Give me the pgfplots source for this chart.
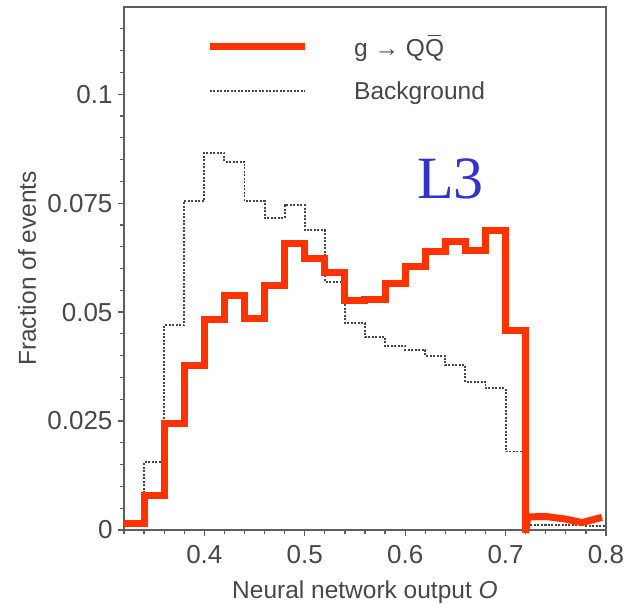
\documentclass[border=0pt]{standalone}
\usepackage{fontspec}
\setmainfont{Liberation Sans}
\newfontfamily\seriffont{Liberation Serif}
\usepackage{pgfplots}
\pgfplotsset{compat=1.18}
\definecolor{sigred}{RGB}{255,51,0}
\definecolor{lthree}{RGB}{51,51,204}
\definecolor{axgray}{RGB}{95,95,95}
\definecolor{bkg}{RGB}{70,70,70}

\pgfplotstableread{
x y
0.32 0.0010
0.34 0.0155
0.36 0.0470
0.38 0.0755
0.40 0.0865
0.42 0.0845
0.44 0.0755
0.46 0.0716
0.48 0.0745
0.50 0.0688
0.52 0.0570
0.54 0.0475
0.56 0.0443
0.58 0.0422
0.60 0.0413
0.62 0.0400
0.64 0.0378
0.66 0.0340
0.68 0.0325
0.70 0.0180
0.72 0.0012
0.74 0.0012
0.76 0.0011
0.78 0.0010
0.80 0.0010
}\bkgtable

\pgfplotstableread{
x y
0.32 0.0015
0.34 0.0079
0.36 0.0245
0.38 0.0378
0.40 0.0482
0.42 0.0537
0.44 0.0486
0.46 0.0562
0.48 0.0658
0.50 0.0622
0.52 0.0590
0.54 0.0526
0.56 0.0530
0.58 0.0566
0.60 0.0604
0.62 0.0638
0.64 0.0661
0.66 0.0642
0.68 0.0687
0.70 0.0457
0.72 -0.0007
}\sigtable

\pgfplotstableread{
x y
0.720 -0.0007
0.722 0.0030
0.740 0.0031
0.760 0.0025
0.776 0.0017
0.796 0.0029
}\sigtail

\begin{document}
\begin{tikzpicture}
\path[use as bounding box] (-124pt,-83pt) rectangle (511pt,530pt);
\begin{axis}[
  at={(0,0)}, anchor=south west, scale only axis,
  width=482pt, height=523pt,
  xmin=0.32, xmax=0.8, ymin=0, ymax=0.12,
  clip=false,
  axis line style={draw=axgray, line width=1.5pt},
  xtick={0.4,0.5,0.6,0.7,0.8}, xticklabels={0.4,0.5,0.6,0.7,0.8},
  ytick={0,0.025,0.05,0.075,0.1}, yticklabels={0,0.025,0.05,0.075,0.1},
  minor xtick={0.32,0.34,0.36,0.38,0.42,0.44,0.46,0.48,0.52,0.54,0.56,0.58,0.62,0.64,0.66,0.68,0.72,0.74,0.76,0.78},
  minor ytick={0.005,0.01,0.015,0.02,0.03,0.035,0.04,0.045,0.055,0.06,0.065,0.07,0.08,0.085,0.09,0.095,0.105,0.11,0.115},
  tick align=outside, tick pos=left,
  major tick length=6pt, minor tick length=4pt,
  tick style={draw=axgray, line width=1.2pt},
  ticklabel style={font=\fontsize{26}{26}\selectfont, text=black!72},
  /pgf/number format/assume math mode=true,
  xticklabel style={yshift=-6pt},
  yticklabel style={xshift=-2pt},
  xlabel={Neural network output \textit{O}},
  ylabel={Fraction of events},
  every axis x label/.style={at={(axis description cs:0.5,-0.1185)}, anchor=center,
    font=\fontsize{24.5}{25}\selectfont, text=black!72},
  every axis y label/.style={at={(axis description cs:-0.2012,0.5)}, anchor=center, rotate=90,
    font=\fontsize{24.5}{25}\selectfont, text=black!72},
  legend style={at={(axis description cs:0.164,0.955)}, anchor=north west, draw=none, fill=none,
    font=\fontsize{24.5}{25}\selectfont, text=black!72, row sep=20pt,
    /tikz/every odd column/.append style={column sep=44pt}},
  legend image code/.code={\draw[#1] (0pt,0pt) -- (95pt,0pt);},
  legend cell align=left,
  reverse legend,
]
\addplot[const plot, color=bkg, line width=1.9pt, dash pattern=on 2pt off 1.5pt] table[x=x,y=y] {\bkgtable};
\addlegendentry{Background}
\addplot[const plot, color=sigred, line width=7pt, line join=miter] table[x=x,y=y] {\sigtable};
\addlegendentry{g → Q\rlap{\hspace{0.12em}\rule[0.8em]{0.55em}{0.07em}}Q}
\addplot[forget plot, sharp plot, color=sigred, line width=7pt, line join=round] table[x=x,y=y] {\sigtail};
\node[text=lthree, font=\seriffont\fontsize{60}{60}\selectfont] at (axis cs:0.645,0.0805) {L3};
\end{axis}
\end{tikzpicture}
\end{document}
